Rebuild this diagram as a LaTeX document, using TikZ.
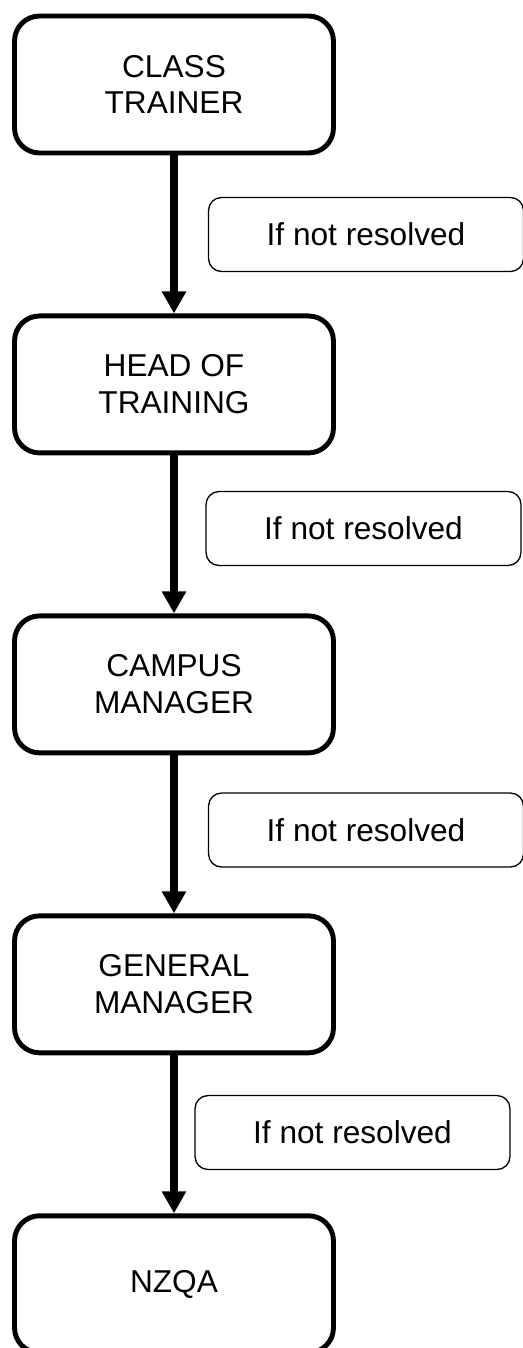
\documentclass[tikz,border=0pt]{standalone}
\usepackage{fontspec}
\setmainfont{Liberation Sans}
\usetikzlibrary{arrows.meta,positioning}

\tikzset{
  level/.style={rectangle,rounded corners=0.5cm,draw,line width=2.8pt,
    minimum width=6.38cm,minimum height=2.74cm,align=center,
    font=\fontsize{18}{21}\selectfont},
  note/.style={rectangle,rounded corners=0.26cm,draw,line width=0.75pt,
    minimum width=6.3cm,minimum height=1.48cm,
    font=\fontsize{18}{21}\selectfont},
  escalate/.style={line width=4pt,-{Triangle[length=0.44cm,width=0.46cm]}}
}

\begin{document}
\begin{tikzpicture}[x=0.02cm,y=-0.02cm,node distance=6cm]
    \useasboundingbox (0,0) rectangle (523,1348);
    % Levels
    \node[level] (trainer) at (174,84.5) {CLASS\\TRAINER};
    \node[level,below of=trainer] (head) {HEAD OF\\TRAINING};
    \node[level,below of=head] (campus) {CAMPUS\\MANAGER};
    \node[level,below of=campus] (general) {GENERAL\\MANAGER};
    \node[level,below of=general] (nzqa) {NZQA};

    % Arrows
    \draw[escalate] (trainer) -- (head);
    \draw[escalate] (head) -- (campus);
    \draw[escalate] (campus) -- (general);
    \draw[escalate] (general) -- (nzqa);

    % Notes
    \node[note] (n1) at (366,234.5) {If not resolved};
    \node[note] (n2) at (363.5,528.5) {If not resolved};
    \node[note] (n3) at (366,830) {If not resolved};
    \node[note] (n4) at (352.5,1132.5) {If not resolved};
\end{tikzpicture}
\end{document}
